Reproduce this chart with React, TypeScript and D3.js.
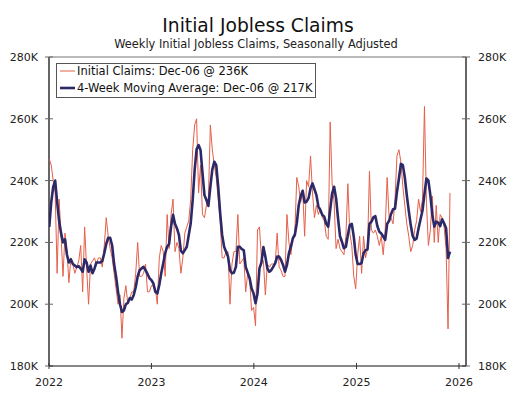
import * as d3 from "d3";

// weekly initial claims, thousands (week ending Jan 8 2022 .. Dec 6 2025)
const claims = [
  247, 245, 240, 236, 210, 234, 222, 209, 223, 217, 207, 215, 213, 210, 212, 214, 219, 204, 225, 212,
  200, 213, 214, 215, 213, 215, 215, 212, 219, 228, 222, 218, 215, 210, 205, 200, 203, 189, 202, 206,
  200, 202, 204, 204, 210, 220, 209, 209, 210, 213, 204, 204, 206, 206, 205, 200, 215, 219, 217, 209,
  229, 218, 229, 234, 217, 220, 218, 210, 215, 223, 225, 227, 234, 250, 258, 260, 236, 245, 229, 228,
  232, 234, 258, 250, 245, 241, 234, 227, 215, 215, 217, 217, 200, 213, 217, 217, 229, 213, 214, 215,
  204, 210, 208, 198, 199, 193, 224, 225, 215, 214, 203, 213, 212, 213, 213, 213, 223, 212, 211, 209,
  209, 229, 220, 216, 222, 223, 241, 238, 233, 237, 222, 240, 238, 248, 236, 228, 232, 229, 231, 228,
  227, 222, 221, 259, 239, 233, 218, 221, 218, 217, 216, 222, 239, 223, 219, 209, 205, 216, 222, 210,
  222, 215, 218, 243, 224, 223, 224, 222, 219, 222, 216, 224, 241, 228, 228, 226, 234, 248, 250, 246,
  238, 232, 226, 222, 217, 219, 224, 227, 234, 230, 234, 264, 233, 219, 224, 235, 220, 232, 220, 229,
  228, 225, 218, 192, 236,
];

// 4-week moving average, thousands
const movingAvg = [
  225, 233, 238, 240, 233, 227, 223, 220, 221, 216, 213.5, 214.5, 213, 212.5, 212, 212.3, 211.5, 210.5, 214.5, 213.5,
  210.5, 212.5, 210, 211.5, 213.5, 213.5, 213.5, 214, 216.5, 219.5, 221.5, 221.5, 219, 213, 209, 204, 200, 197.5, 198, 200,
  200.5, 202, 201.5, 203, 205.5, 209, 211, 211.6, 212.1, 211, 209.8, 208.4, 207.8, 206.7, 204, 203.5, 206.2, 210, 213.2, 216.5,
  218.6, 219.5, 225.1, 228.9, 226, 224.5, 222.4, 217.3, 216.5, 217.5, 218.6, 222.4, 226.2, 233.7, 243.4, 250.1, 251.5, 249.9, 242.4, 235.3,
  233.7, 231.8, 238, 243.6, 246.1, 245, 238, 229.4, 222.4, 218.6, 217, 215.4, 211, 210, 210.2, 212.1, 218.6, 218.6, 217.8, 217.5,
  212.1, 210.2, 208.4, 205.1, 203.5, 200.3, 203.5, 211.6, 213.5, 218.5, 215.4, 211.6, 210.5, 211, 212.1, 213.2, 215.4, 215.4, 214.3, 212.7,
  210.5, 212.7, 216.5, 218.6, 221.3, 222.4, 226.2, 232.1, 235, 236.7, 232.9, 233.2, 234.3, 237.5, 239.1, 237.2, 235.3, 231.6, 230.5, 228.9,
  228.3, 226, 225.1, 230.5, 235.9, 238, 234.3, 227.8, 222, 220.2, 218.1, 218.6, 222.4, 225.6, 226, 221.9, 215.9, 213, 213, 213.4,
  216.5, 217.5, 217.7, 226, 226.7, 228.1, 228.5, 225.3, 223.5, 222.9, 221.9, 220.8, 226, 227, 229.2, 230.7, 230.9, 236.4, 240.7, 245.4,
  245, 241, 235.3, 230.3, 225.6, 222.1, 220.8, 221.3, 224.6, 227.5, 230.3, 235.7, 240.7, 240, 235.3, 228.9, 225.1, 226.7, 226.4, 225.3,
  227.5, 226.2, 224.6, 215, 217,
];

const yTicks = [180, 200, 220, 240, 260, 280];
const yearTicks = [2022, 2023, 2024, 2025, 2026];
const legendLabels = [
  "Initial Claims: Dec-06 @ 236K",
  "4-Week Moving Average: Dec-06 @ 217K",
];

const W = 517;
const H = 393;
const left = 49;
const right = 466;
const top = 57;
const bottom = 366;
const font = "'DejaVu Sans', Verdana, sans-serif";
const red = "#E4604A";
const navy = "#2B2968";

// plotted at the start of each claims week
const weeks = d3.timeWeek.range(new Date(2022, 0, 2), new Date(2025, 11, 1)).slice(0, claims.length);

const x = d3
  .scaleTime()
  .domain([new Date(2022, 0, 1), new Date(2026, 0, 26)])
  .range([left, right]);
const y = d3.scaleLinear().domain([180, 280]).range([bottom, top]);

const App = () => {
  const line = d3
    .line<number>()
    .x((_, i) => x(weeks[i]))
    .y((d) => y(d));

  return (
    <svg
      width={W}
      height={H}
      style={{ position: "absolute", left: 0, top: 0, background: "#fff" }}
      fontFamily={font}
    >
      <defs>
        <clipPath id="plot">
          <rect x={left} y={top} width={right - left} height={bottom - top} />
        </clipPath>
      </defs>

      <text x={258} y={32} textAnchor="middle" fontSize={18.7} fill="#111">
        Initial Jobless Claims
      </text>
      <text x={256} y={48} textAnchor="middle" fontSize={11.4} fill="#222">
        Weekly Initial Jobless Claims, Seasonally Adjusted
      </text>

      {/* frame */}
      <line x1={left} x2={right} y1={top} y2={top} stroke="#777" strokeWidth={1.2} />
      <line x1={left} x2={left} y1={top} y2={bottom} stroke="#666" strokeWidth={2} />
      <line x1={right} x2={right} y1={top} y2={bottom} stroke="#666" strokeWidth={2} />

      {yTicks.map((t) => (
        <g key={t}>
          <line x1={left - 4} x2={left + 4} y1={y(t)} y2={y(t)} stroke="#666" strokeWidth={1} />
          <line x1={right - 4} x2={right + 4} y1={y(t)} y2={y(t)} stroke="#666" strokeWidth={1} />
          <text x={38} y={y(t) + 4} textAnchor="end" fontSize={11} fill="#222">
            {t}K
          </text>
          <text x={478} y={y(t) + 4} fontSize={11} fill="#222">
            {t}K
          </text>
        </g>
      ))}

      <g clipPath="url(#plot)">
        <path d={line(claims) ?? ""} fill="none" stroke={red} strokeWidth={1} strokeLinejoin="round" />
        <path d={line(movingAvg) ?? ""} fill="none" stroke={navy} strokeWidth={2.6} strokeLinejoin="round" />
      </g>

      {/* x axis */}
      <line x1={left} x2={right} y1={bottom} y2={bottom} stroke="#111" strokeWidth={1.2} />
      {yearTicks.map((yr) => {
        const px = x(new Date(yr, 0, 1));
        return (
          <g key={yr}>
            <line x1={px} x2={px} y1={bottom - 3} y2={bottom + 3} stroke="#333" strokeWidth={1} />
            <text x={px} y={386} textAnchor="middle" fontSize={11} fill="#222">
              {yr}
            </text>
          </g>
        );
      })}

      {/* legend */}
      <rect x={56.5} y={63.5} width={259} height={34} fill="#fff" stroke="#555" strokeWidth={1} />
      <line x1={60} x2={75} y1={71} y2={71} stroke={red} strokeWidth={1} />
      <text x={77} y={75} fontSize={11.5} fill="#111">
        {legendLabels[0]}
      </text>
      <line x1={60} x2={75} y1={88} y2={88} stroke={navy} strokeWidth={2.6} />
      <text x={77} y={92} fontSize={11.5} fill="#111">
        {legendLabels[1]}
      </text>
    </svg>
  );
};

export default App;
